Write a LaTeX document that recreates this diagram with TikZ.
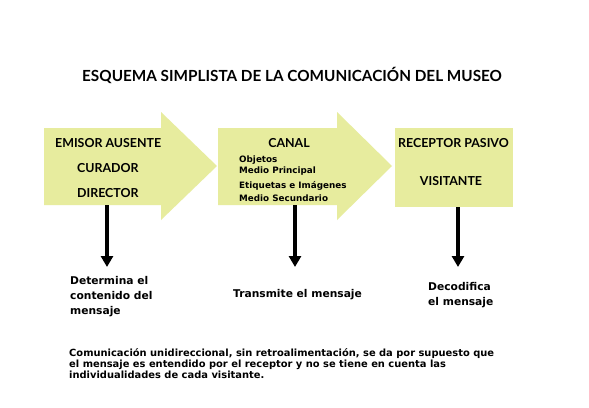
\documentclass[tikz,border=0pt]{standalone}
\usepackage{fontspec}
\setmainfont{DejaVu Sans}
\newfontfamily\capsfont{Lato}
\usetikzlibrary{arrows.meta}
\definecolor{paleyellow}{RGB}{231,236,158}
\tikzset{flow/.style={fill=paleyellow,draw=none},
 push/.style={line width=3.5pt,-{Triangle[width=12pt,length=11pt]}},
 heading/.style={font=\capsfont\bfseries\fontsize{12.4}{14}\selectfont,inner sep=0pt},
 item/.style={font=\bfseries\fontsize{8.8}{11}\selectfont,anchor=west,inner sep=0pt},
 result/.style={font=\bfseries\fontsize{10.7}{15}\selectfont,align=left,anchor=west,inner sep=0pt},
 }

\begin{document}
\begin{tikzpicture}[x=1pt,y=-1pt]
        \useasboundingbox[fill=white] (0,0) rectangle (589,407);
        \node[anchor=west,inner sep=0pt,font=\capsfont\bfseries\fontsize{15.3}{18}\selectfont] (title) at (82,75) {ESQUEMA SIMPLISTA DE LA COMUNICACIÓN DEL MUSEO};
        % the three blocks
        \fill[flow] (44,128) -- (161,128) -- (161,112) -- (217,166) -- (161,220) -- (161,205) -- (44,205) -- cycle;
        \fill[flow] (218,128) -- (337,128) -- (337,112) -- (392,166) -- (337,220) -- (337,205) -- (218,205) -- cycle;
        \fill[flow] (395,128) rectangle (513,207);
        \node[heading,anchor=west] (emisor) at (55,143) {EMISOR AUSENTE};
        \node[heading,anchor=west] (curador) at (77,168) {CURADOR};
        \node[heading,anchor=west] (director) at (77,193) {DIRECTOR};
        \node[heading] (canal) at (289,143) {CANAL};
        \node[item] (objetos) at (239,160) {Objetos};
        \node[item] (principal) at (239,171) {Medio Principal};
        \node[item] (etiquetas) at (239,186) {Etiquetas e Imágenes};
        \node[item] (secundario) at (239,198) {Medio Secundario};
        \node[heading,anchor=west] (receptor) at (398,143) {RECEPTOR PASIVO};
        \node[heading] (visitante) at (451,181) {VISITANTE};
        % downward arrows
        \coordinate (e1) at (107,205);
        \coordinate (e2) at (107,267);
        \coordinate (c1) at (295,205);
        \coordinate (c2) at (295,267);
        \coordinate (r1) at (458,207);
        \coordinate (r2) at (458,267);
        \draw[push] (e1) -- (e2);
        \draw[push] (c1) -- (c2);
        \draw[push] (r1) -- (r2);
        \node[result] (determina) at (70,297) {Determina el\\contenido del\\mensaje};
        \node[result] (transmite) at (233,295) {Transmite el mensaje};
        \node[result] (decodifica) at (428,295) {Decodifica\\el mensaje};
        \node[result,font=\bfseries\fontsize{9.9}{11}\selectfont] (nota) at (69,364) {Comunicación unidireccional, sin retroalimentación, se da por supuesto que\\el mensaje es entendido por el receptor y no se tiene en cuenta las\\individualidades de cada visitante.};
    \end{tikzpicture}
\end{document}
